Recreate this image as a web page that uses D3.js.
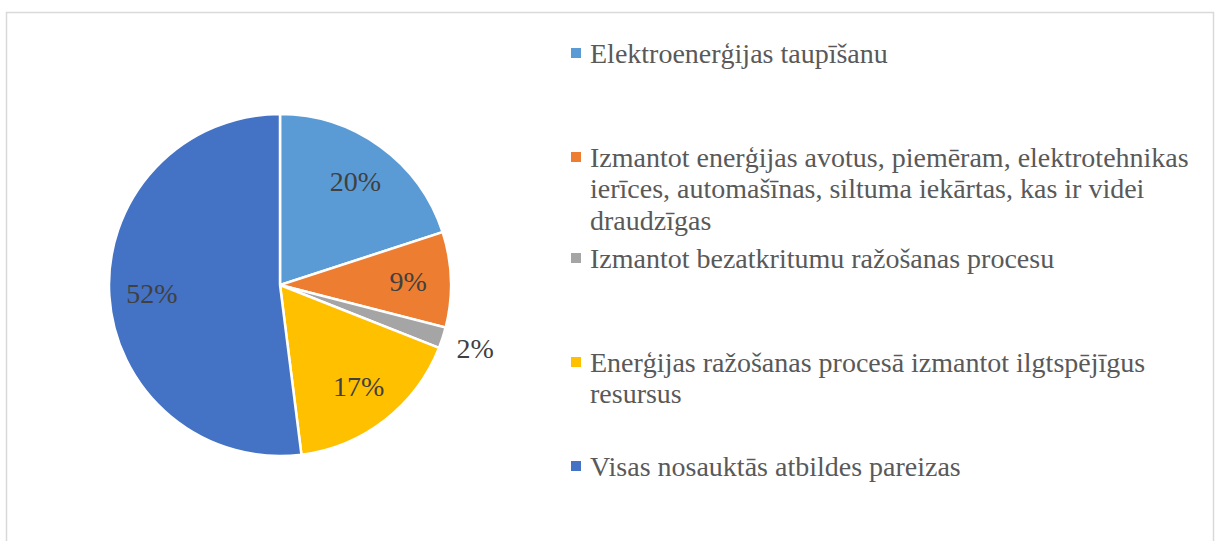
<!DOCTYPE html>
<html>
<head>
<meta charset="utf-8">
<script src="https://cdn.jsdelivr.net/npm/d3@7"></script>
<style>
  body { margin: 0; background: #fff; }
  svg { display: block; }
  text { font-family: 'Liberation Serif', 'Times New Roman', serif; }
</style>
</head>
<body>
<div id="chart"></div>
<script>
(function() {
    var width = 1216,
        height = 541;

    // data
    var categories = [
        "Elektroenerģijas taupīšanu",
        "Izmantot enerģijas avotus, piemēram, elektrotehnikas ierīces, automašīnas, siltuma iekārtas, kas ir videi draudzīgas",
        "Izmantot bezatkritumu ražošanas procesu",
        "Enerģijas ražošanas procesā izmantot ilgtspējīgus resursus",
        "Visas nosauktās atbildes pareizas"
    ];
    var values = [20, 9, 2, 17, 52];
    var colors = ["#5b9bd5", "#ed7d31", "#a5a5a5", "#ffc000", "#4472c4"];

    var data = categories.map(function(c, i) {
        return { name: c, value: values[i], color: colors[i] };
    });

    var svg = d3.select("#chart")
        .append("svg")
        .attr("width", width)
        .attr("height", height);

    // chart border (runs off the bottom of the picture)
    svg.append("rect")
        .attr("x", 6.5)
        .attr("y", 12.5)
        .attr("width", 1207)
        .attr("height", 560)
        .attr("fill", "none")
        .attr("stroke", "#d9d9d9")
        .attr("stroke-width", 1.5);

    var cx = 280, cy = 285, radius = 171;

    var pie = d3.pie()
        .sort(null)
        .value(function(d) { return d.value });

    var arc = d3.arc().innerRadius(0).outerRadius(radius);
    var labelArc = d3.arc().innerRadius(radius * 0.75).outerRadius(radius * 0.75);
    var outerLabelArc = d3.arc().innerRadius(radius * 1.2).outerRadius(radius * 1.2);

    var g = svg.append("g")
        .attr("transform", "translate(" + cx + "," + cy + ")");

    var arcs = pie(data);

    g.selectAll(".slice")
        .data(arcs)
        .enter().append("path")
        .attr("class", "slice")
        .attr("d", arc)
        .attr("fill", function(d) { return d.data.color })
        .attr("stroke", "#fff")
        .attr("stroke-width", 2.5);

    g.selectAll(".label")
        .data(arcs)
        .enter().append("text")
        .attr("class", "label")
        .attr("transform", function(d) {
            var c = d.data.value < 5 ? outerLabelArc.centroid(d) : labelArc.centroid(d);
            return "translate(" + c + ")";
        })
        .attr("text-anchor", "middle")
        .attr("dy", "0.35em")
        .attr("font-size", 28)
        .attr("fill", "#404040")
        .text(function(d) { return d.data.value + "%" });

    // legend
    var legendX = 571,
        textX = 590,
        maxTextWidth = 610,
        lineHeight = 31.5;
    var legendY = [53, 157, 258, 362, 466]; // first line centre of each entry

    var legend = svg.append("g");

    data.forEach(function(d, i) {
        legend.append("rect")
            .attr("x", legendX)
            .attr("y", legendY[i] - 5)
            .attr("width", 10)
            .attr("height", 10)
            .attr("fill", d.color);

        var text = legend.append("text")
            .attr("x", textX)
            .attr("y", legendY[i])
            .attr("dy", "0.35em")
            .attr("font-size", 28)
            .attr("fill", "#595959");

        // wrap words to the legend width
        var words = d.name.split(" "),
            line = [],
            tspan = text.append("tspan").attr("x", textX);
        words.forEach(function(w) {
            line.push(w);
            tspan.text(line.join(" "));
            if (tspan.node().getComputedTextLength() > maxTextWidth && line.length > 1) {
                line.pop();
                tspan.text(line.join(" "));
                line = [w];
                tspan = text.append("tspan")
                    .attr("x", textX)
                    .attr("dy", lineHeight)
                    .text(w);
            }
        });
    });
})();
</script>
</body>
</html>
